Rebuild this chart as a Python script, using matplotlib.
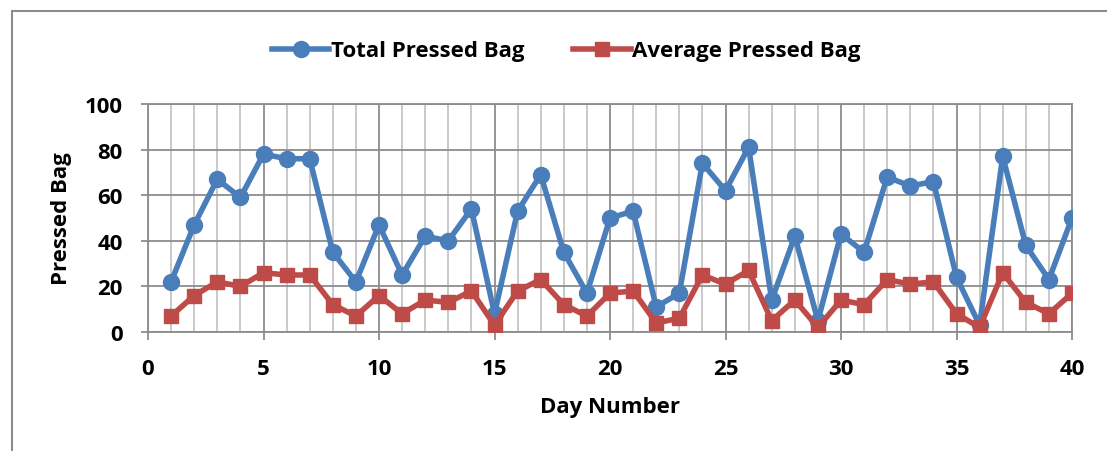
import matplotlib.pyplot as plt
from matplotlib.patches import Rectangle

# Daily pressed bag counts
days = list(range(1, 41))
total_bags = [22, 47, 67, 59, 78, 76, 76, 35, 22, 47,
              25, 42, 40, 54, 8, 53, 69, 35, 17, 50,
              53, 11, 17, 74, 62, 81, 14, 42, 5, 43,
              35, 68, 64, 66, 24, 3, 77, 38, 23, 50]
avg_bags = [7, 16, 22, 20, 26, 25, 25, 12, 7, 16,
            8, 14, 13, 18, 3, 18, 23, 12, 7, 17,
            18, 4, 6, 25, 21, 27, 5, 14, 2, 14,
            12, 23, 21, 22, 8, 2, 26, 13, 8, 17]
x_ticks = [0, 5, 10, 15, 20, 25, 30, 35, 40]
y_ticks = [0, 20, 40, 60, 80, 100]

plt.rcParams['font.family'] = ['Open Sans', 'DejaVu Sans']
plt.rcParams['font.weight'] = 'bold'
FS = 16

fig = plt.figure(figsize=(11.07, 4.52), dpi=100)
# outer chart frame
fig.patches.append(Rectangle((12 / 1107, -0.05), 1.2, 1 - 12 / 452 + 0.05,
                             transform=fig.transFigure, fill=False,
                             edgecolor='#8c8c8c', linewidth=1.5))

ax = fig.add_axes([148 / 1107, 1 - 333 / 452, (1072 - 148) / 1107, (333 - 105) / 452])

blue = '#4a7ebb'
red = '#be4b48'
ax.plot(days, total_bags, color=blue, lw=4, marker='o', ms=11.5,
        label='Total Pressed Bag', zorder=3)
ax.plot(days, avg_bags, color=red, lw=4, marker='s', ms=10.5,
        label='Average Pressed Bag', zorder=3)

ax.set_xlim(0, 40)
ax.set_ylim(0, 100)
ax.set_xticks(x_ticks)
ax.set_xticks(days, minor=True)
ax.set_yticks(y_ticks)
ax.grid(True, which='major', color='#8c8c8c', lw=1.3)
ax.grid(True, which='minor', axis='x', color='#c0c0c0', lw=1.2)
ax.set_axisbelow(True)
for s in ax.spines.values():
    s.set_color('#8c8c8c')
    s.set_linewidth(1.3)
ax.tick_params(which='minor', length=0)
ax.tick_params(axis='x', which='major', length=5.8, width=1.3,
               color='#8c8c8c', pad=13, labelsize=FS)
ax.tick_params(axis='y', which='major', length=5, width=1.3,
               color='#8c8c8c', pad=13, labelsize=FS)

ax.set_xlabel('Day Number', fontsize=FS, fontweight='bold')
ax.set_ylabel('Pressed Bag', fontsize=FS, fontweight='bold')
ax.xaxis.set_label_coords(0.5, (333 - 408) / 228)
ax.yaxis.set_label_coords((61 - 148) / 924, 0.5)
ax.xaxis.label.set_va('center')
ax.yaxis.label.set_va('center')

fig.legend(loc='center', bbox_to_anchor=(566 / 1107, 1 - 52 / 452), ncol=2,
           frameon=False, prop={'weight': 'bold', 'size': FS},
           handlelength=2.6, handletextpad=0.05, columnspacing=2.2)

fig.savefig('out.png', dpi=100)
